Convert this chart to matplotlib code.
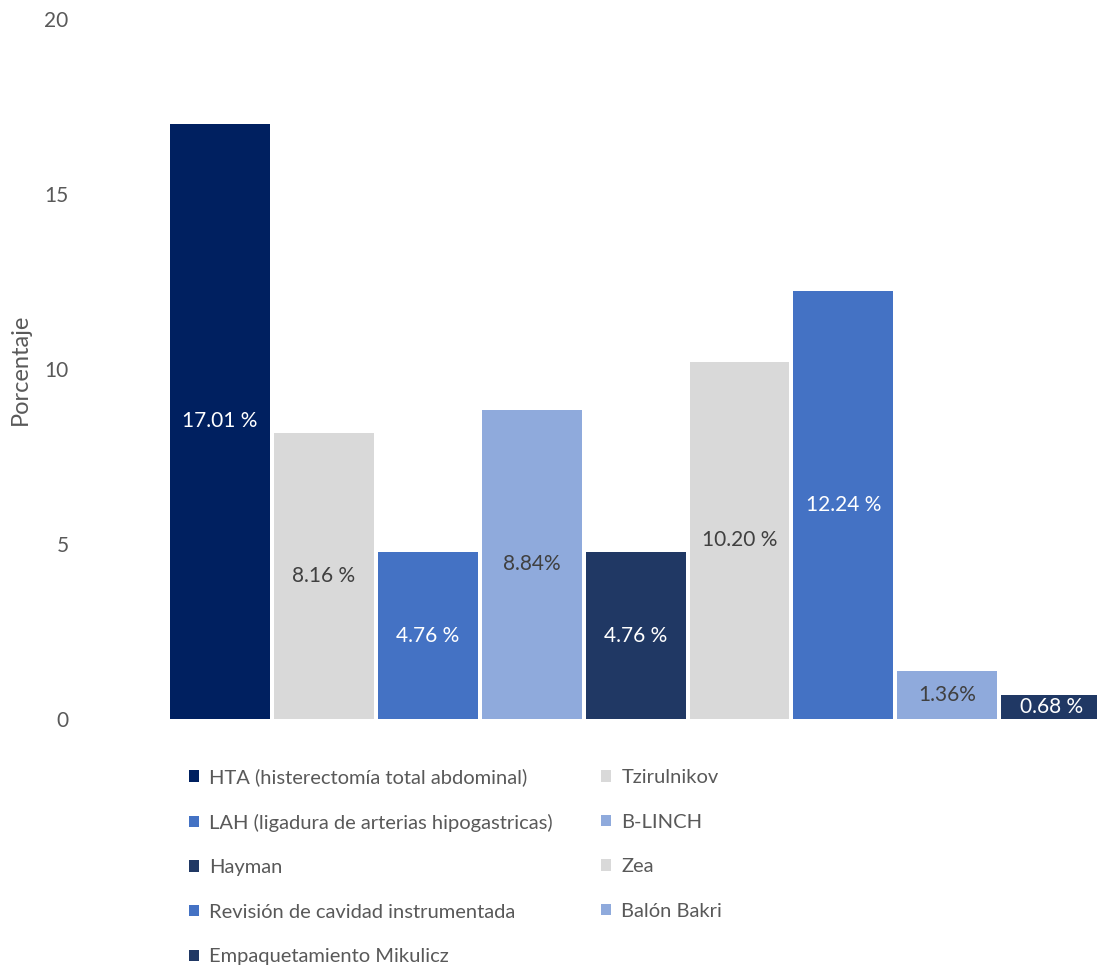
import numpy as np
import matplotlib
matplotlib.use("Agg")
import matplotlib.pyplot as plt

plt.rcParams['font.family'] = ['Lato', 'DejaVu Sans']

# datos
procedimientos = ["HTA (histerectomía total abdominal)", "Tzirulnikov",
                  "LAH (ligadura de arterias hipogastricas)", "B-LINCH",
                  "Hayman", "Zea", "Revisión de cavidad instrumentada",
                  "Balón Bakri", "Empaquetamiento Mikulicz"]
porcentajes = [17.01, 8.16, 4.76, 8.84, 4.76, 10.20, 12.24, 1.36, 0.68]
etiquetas = ["17.01 %", "8.16 %", "4.76 %", "8.84%", "4.76 %",
             "10.20 %", "12.24 %", "1.36%", "0.68 %"]
colores = ["#002060", "#D9D9D9", "#4472C4", "#8FAADC", "#203864",
           "#D9D9D9", "#4472C4", "#8FAADC", "#203864"]
color_texto = ["white", "#404040", "white", "#404040", "white",
               "#404040", "white", "#404040", "white"]

W, H = 1097, 969
fig = plt.figure(figsize=(W / 100, H / 100), dpi=100)
ax = fig.add_axes([170 / W, 250 / H, 927 / W, 700 / H])

x = np.arange(len(porcentajes))
barras = []
for i in range(len(porcentajes)):
    b = ax.bar(x[i], porcentajes[i], width=0.962, color=colores[i],
               label=procedimientos[i])
    barras.append(b)
    ax.text(x[i], porcentajes[i] / 2, etiquetas[i], ha='center', va='center',
            color=color_texto[i], fontsize=15)

ax.set_xlim(-0.48, 8.44)
ax.set_ylim(0, 20)
ax.set_yticks([0, 5, 10, 15, 20])
ax.set_xticks([])
ax.tick_params(axis='y', length=0, pad=73, labelsize=15, labelcolor='#595959')
for s in ax.spines.values():
    s.set_visible(False)
ax.set_ylabel("Porcentaje", fontsize=17, color='#595959')
ax.yaxis.set_label_coords(-139 / 927, 0.5)

# leyenda en filas: reordenar para ncol=2
orden = [0, 2, 4, 6, 8, 1, 3, 5, 7]
fig.legend([barras[i] for i in orden], [procedimientos[i] for i in orden],
           ncol=2, loc='upper left', bbox_to_anchor=(179 / W, 1 - 758 / H),
           frameon=False, fontsize=14.5, handlelength=0.5, handleheight=0.5,
           handletextpad=0.5, labelspacing=1.37, columnspacing=2.4,
           borderpad=0, labelcolor='#595959')

fig.savefig("out.png", dpi=100)
